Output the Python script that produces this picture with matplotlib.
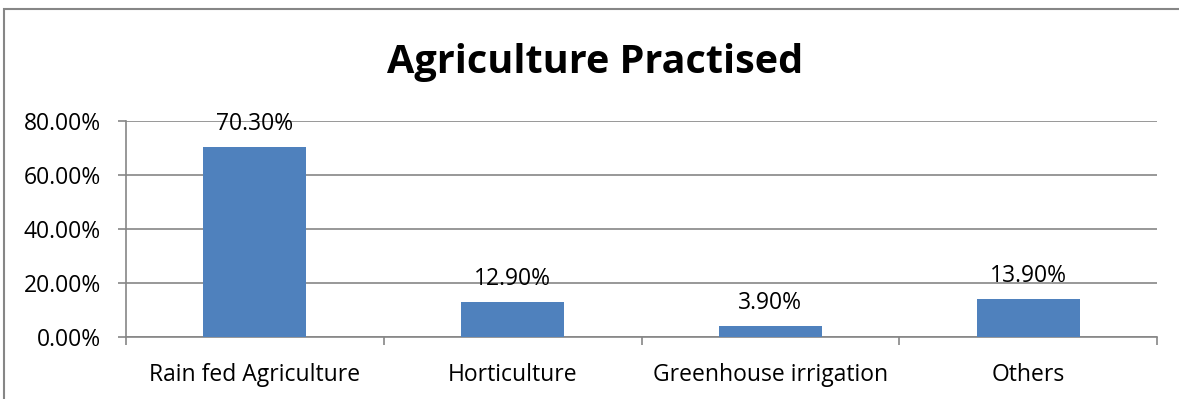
import matplotlib.pyplot as plt
from matplotlib.patches import Rectangle
from matplotlib.ticker import FuncFormatter, FixedLocator

# Share of farming types practised (percent)
categories = ['Rain fed Agriculture', 'Horticulture', 'Greenhouse irrigation', 'Others']
shares = [70.3, 12.9, 3.9, 13.9]
y_ticks = [0, 20, 40, 60, 80]

bar_color = '#4F81BD'
line_color = '#868686'

plt.rcParams['font.family'] = ['Open Sans', 'DejaVu Sans']

fig = plt.figure(figsize=(11.79, 3.99), dpi=100)
ax = fig.add_axes([126 / 1179, 1 - 337 / 399, (1157 - 126) / 1179, 216 / 399])

x = range(len(categories))
ax.bar(x, shares, width=0.4, color=bar_color, zorder=3)

for xi, v in zip(x, shares):
    ax.annotate(f'{v:.2f}%', (xi, v), xytext=(0, 8), textcoords='offset points',
                ha='center', va='bottom', fontsize=16.5, color='black', zorder=4)

ax.set_xlim(-0.5, len(categories) - 0.5)
ax.set_ylim(0, 80)
ax.set_yticks(y_ticks)
ax.yaxis.set_major_formatter(FuncFormatter(lambda v, p: f'{v:.2f}%'))
ax.yaxis.grid(True, color=line_color, linewidth=1.2, zorder=0)
ax.tick_params(axis='y', length=6, width=1.2, color=line_color, labelsize=16.5, pad=12)

ax.set_xticks(list(x))
ax.set_xticklabels(categories)
ax.xaxis.set_minor_locator(FixedLocator([i - 0.5 for i in range(len(categories) + 1)]))
ax.tick_params(axis='x', which='major', length=0, labelsize=16.5, pad=19)
ax.tick_params(axis='x', which='minor', length=6, width=1.2, color=line_color)

for side in ['top', 'right']:
    ax.spines[side].set_visible(False)
for side in ['left', 'bottom']:
    ax.spines[side].set_color(line_color)
    ax.spines[side].set_linewidth(1.2)

fig.text(595 / 1179, 1 - 62 / 399, 'Agriculture Practised', ha='center', va='center',
         fontsize=28.5, fontweight='bold')

# chart area outline
fig.patches.append(Rectangle((4 / 1179, -0.1), 1.2, 1 - 9 / 399 + 0.1, transform=fig.transFigure,
                             fill=False, edgecolor=line_color, linewidth=1.5))

fig.savefig('out.png', dpi=100, facecolor='white')
